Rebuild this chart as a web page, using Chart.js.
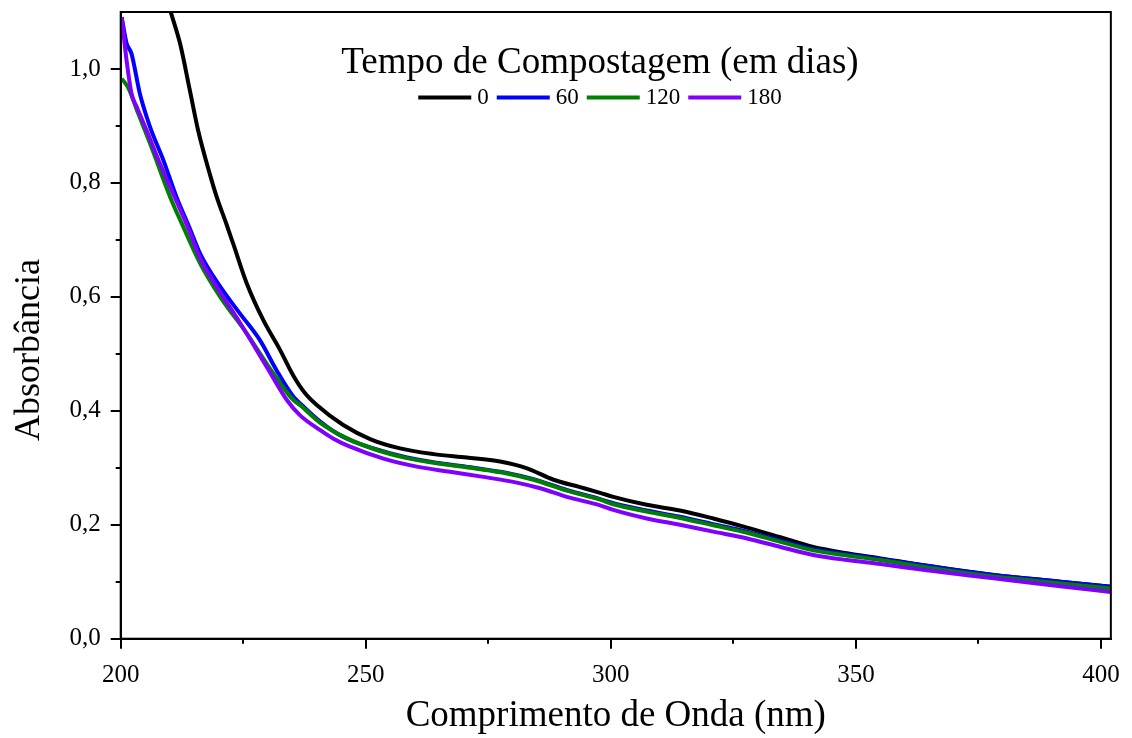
<!DOCTYPE html>
<html>
<head>
<meta charset="utf-8">
<script src="https://cdn.jsdelivr.net/npm/chart.js@4.4.1/dist/chart.umd.min.js"></script>
<style>
html,body{margin:0;padding:0;background:#ffffff;}
#wrap{width:1132px;height:738px;position:relative;}
</style>
</head>
<body>
<div id="wrap"><canvas id="c" width="1132" height="738"></canvas></div>
<script>
// ---- Data (wavelength in nm, absorbance) ----
const seriesLabels = ['0', '60', '120', '180'];
const seriesColors = ['#000000', '#0000ff', '#008000', '#8000ff'];

const wl0  = [208, 210.1, 212.1, 214.1, 215.8, 218.2, 219.6, 221.6, 223, 225.7, 229.1, 232.5, 235.2, 237.5, 240, 245.4, 251, 257, 263.8, 270.6, 277.4, 282.9, 288.3, 293.7, 297.8, 300.5, 307.3, 314.1, 320.9, 327.8, 334.6, 341.3, 348.2, 355, 364.5, 378.1, 391.7, 402];
const abs0 = [1.165, 1.103, 1.045, 0.963, 0.892, 0.815, 0.775, 0.727, 0.692, 0.624, 0.559, 0.507, 0.462, 0.432, 0.410, 0.375, 0.35, 0.334, 0.324, 0.318, 0.311, 0.299, 0.279, 0.266, 0.256, 0.249, 0.235, 0.225, 0.211, 0.195, 0.178, 0.161, 0.150, 0.141, 0.128, 0.112, 0.100, 0.091];

const wl60  = [200.2, 201.2, 202.2, 203.9, 206, 208.7, 211.4, 214.1, 216.2, 220.3, 224.3, 228.4, 231.8, 235.2, 236.6, 240.7, 245.4, 251.6, 258.4, 265.2, 272, 278.8, 284.2, 291, 297.8, 300.5, 307.3, 314.1, 320.9, 327.8, 334.6, 341.3, 348.2, 355, 364.5, 378.1, 391.7, 402];
const abs60 = [1.091, 1.045, 1.027, 0.957, 0.898, 0.84, 0.775, 0.72, 0.676, 0.618, 0.571, 0.524, 0.471, 0.425, 0.413, 0.381, 0.354, 0.334, 0.318, 0.308, 0.300, 0.291, 0.280, 0.261, 0.245, 0.238, 0.225, 0.214, 0.201, 0.188, 0.172, 0.157, 0.148, 0.140, 0.128, 0.112, 0.100, 0.091];

const wl120  = [200.2, 201.6, 203.3, 206, 210.1, 212.5, 216.2, 220.3, 225.7, 231.1, 235.2, 236.6, 240.7, 246.1, 251.6, 258.4, 265.2, 272, 278.8, 284.2, 291, 297.8, 300.5, 307.3, 314.1, 320.9, 327.8, 334.6, 341.3, 348.2, 355, 364.5, 378.1, 391.7, 402];
const abs120 = [0.983, 0.966, 0.928, 0.869, 0.775, 0.728, 0.659, 0.600, 0.536, 0.466, 0.419, 0.410, 0.379, 0.352, 0.333, 0.317, 0.307, 0.299, 0.290, 0.279, 0.260, 0.244, 0.236, 0.223, 0.212, 0.199, 0.186, 0.170, 0.155, 0.146, 0.138, 0.125, 0.109, 0.097, 0.088];

const wl180  = [200.2, 201.2, 202.2, 203.3, 205.3, 208, 213.8, 216.2, 220.3, 224.3, 229.8, 233.9, 236.6, 240.7, 243.4, 246.8, 253.6, 260.4, 267.2, 274, 280.8, 285.6, 291, 297.8, 300.5, 307.3, 314.1, 320.9, 327.8, 334.6, 341.3, 348.2, 355, 364.5, 378.1, 391.7, 402];
const abs180 = [1.091, 1.015, 0.957, 0.933, 0.892, 0.834, 0.72, 0.668, 0.608, 0.555, 0.477, 0.419, 0.392, 0.366, 0.351, 0.337, 0.316, 0.302, 0.293, 0.284, 0.274, 0.264, 0.249, 0.234, 0.226, 0.211, 0.200, 0.188, 0.176, 0.161, 0.147, 0.138, 0.131, 0.120, 0.106, 0.092, 0.082];

const xMajorTicks = [200, 250, 300, 350, 400];
const xMinorTicks = [225, 275, 325, 375];
const yMajorTicks = [0, 0.2, 0.4, 0.6, 0.8, 1.0];
const yMinorTicks = [0.1, 0.3, 0.5, 0.7, 0.9];

const legendTitle = 'Tempo de Compostagem (em dias)';
const xTitle = 'Comprimento de Onda (nm)';
const yTitle = 'Absorbância';

const FONT = "'Liberation Serif', 'Times New Roman', serif";

function pts(xs, ys) { return xs.map((x, i) => ({ x: x, y: ys[i] })); }
const allWl = [wl0, wl60, wl120, wl180];
const allAbs = [abs0, abs60, abs120, abs180];

const datasets = seriesLabels.map((lab, i) => ({
  label: lab,
  data: pts(allWl[i], allAbs[i]),
  borderColor: seriesColors[i],
  backgroundColor: seriesColors[i],
  borderWidth: 4,
  pointRadius: 0,
  cubicInterpolationMode: 'monotone',
  order: 4 - i
}));

const framePlugin = {
  id: 'frameAndMinor',
  afterDraw(chart) {
    const ctx = chart.ctx;
    const a = chart.chartArea;
    const xs = chart.scales.x, ys = chart.scales.y;
    ctx.save();
    ctx.strokeStyle = '#000';
    ctx.lineWidth = 2;
    ctx.strokeRect(a.left, a.top, a.right - a.left, a.bottom - a.top);
    ctx.beginPath();
    xMinorTicks.forEach(v => {
      const px = Math.round(xs.getPixelForValue(v));
      ctx.moveTo(px, a.bottom); ctx.lineTo(px, a.bottom + 5);
    });
    yMinorTicks.forEach(v => {
      const py = Math.round(ys.getPixelForValue(v));
      ctx.moveTo(a.left, py); ctx.lineTo(a.left - 5, py);
    });
    ctx.stroke();

    // y axis title
    ctx.save();
    ctx.translate(30, 350);
    ctx.rotate(-Math.PI / 2);
    ctx.fillStyle = '#000';
    ctx.font = '36px ' + FONT;
    ctx.textAlign = 'center';
    ctx.textBaseline = 'middle';
    ctx.fillText(yTitle, 0, 0);
    ctx.restore();

    // legend (inside plot area)
    const cx = 600;
    ctx.fillStyle = '#000';
    ctx.font = '37px ' + FONT;
    ctx.textAlign = 'center';
    ctx.textBaseline = 'alphabetic';
    ctx.fillText(legendTitle, cx, 73);
    ctx.font = '23px ' + FONT;
    const lineLen = 53, gap1 = 6, gap2 = 8;
    const items = chart.data.datasets.map(d => ({ label: d.label, color: d.borderColor, w: ctx.measureText(d.label).width }));
    let total = 0;
    items.forEach((it, i) => { total += lineLen + gap1 + it.w + (i < items.length - 1 ? gap2 : 0); });
    let x = cx - total / 2;
    ctx.textAlign = 'left';
    items.forEach(it => {
      ctx.strokeStyle = it.color;
      ctx.lineWidth = 4;
      ctx.beginPath();
      ctx.moveTo(x, 97.5); ctx.lineTo(x + lineLen, 97.5);
      ctx.stroke();
      x += lineLen + gap1;
      ctx.fillStyle = '#000';
      ctx.fillText(it.label, x, 104);
      x += it.w + gap2;
    });
    ctx.restore();
  }
};

new Chart(document.getElementById('c'), {
  type: 'line',
  data: { datasets: datasets },
  options: {
    responsive: false,
    animation: false,
    devicePixelRatio: 1,
    layout: { padding: { top: 0, right: 21, left: 0, bottom: 0 } },
    plugins: { legend: { display: false }, tooltip: { enabled: false } },
    scales: {
      x: {
        type: 'linear',
        min: 200, max: 402,
        afterFit(s) { s.height = 99.3; },
        afterBuildTicks(s) { s.ticks = xMajorTicks.map(v => ({ value: v })); },
        grid: { display: true, drawOnChartArea: false, drawTicks: true, tickLength: 10, color: '#000', lineWidth: 2 },
        border: { display: true, color: '#000', width: 2 },
        ticks: { color: '#000', font: { family: FONT, size: 25 }, padding: 12, maxRotation: 0, callback: v => String(v) },
        title: { display: true, text: xTitle, color: '#000', font: { family: FONT, size: 37 }, padding: { top: 0, bottom: 0 } }
      },
      y: {
        type: 'linear',
        min: 0, max: 1.1,
        afterFit(s) { s.width = 120.7; s.paddingTop = 12; s.paddingBottom = 0; },
        afterBuildTicks(s) { s.ticks = yMajorTicks.map(v => ({ value: v })); },
        grid: { display: true, drawOnChartArea: false, drawTicks: true, tickLength: 10, color: '#000', lineWidth: 2 },
        border: { display: true, color: '#000', width: 2 },
        ticks: { color: '#000', font: { family: FONT, size: 25 }, padding: 10, callback: v => Number(v).toFixed(1).replace('.', ',') },
        title: { display: false }
      }
    }
  },
  plugins: [framePlugin]
});
</script>
</body>
</html>
